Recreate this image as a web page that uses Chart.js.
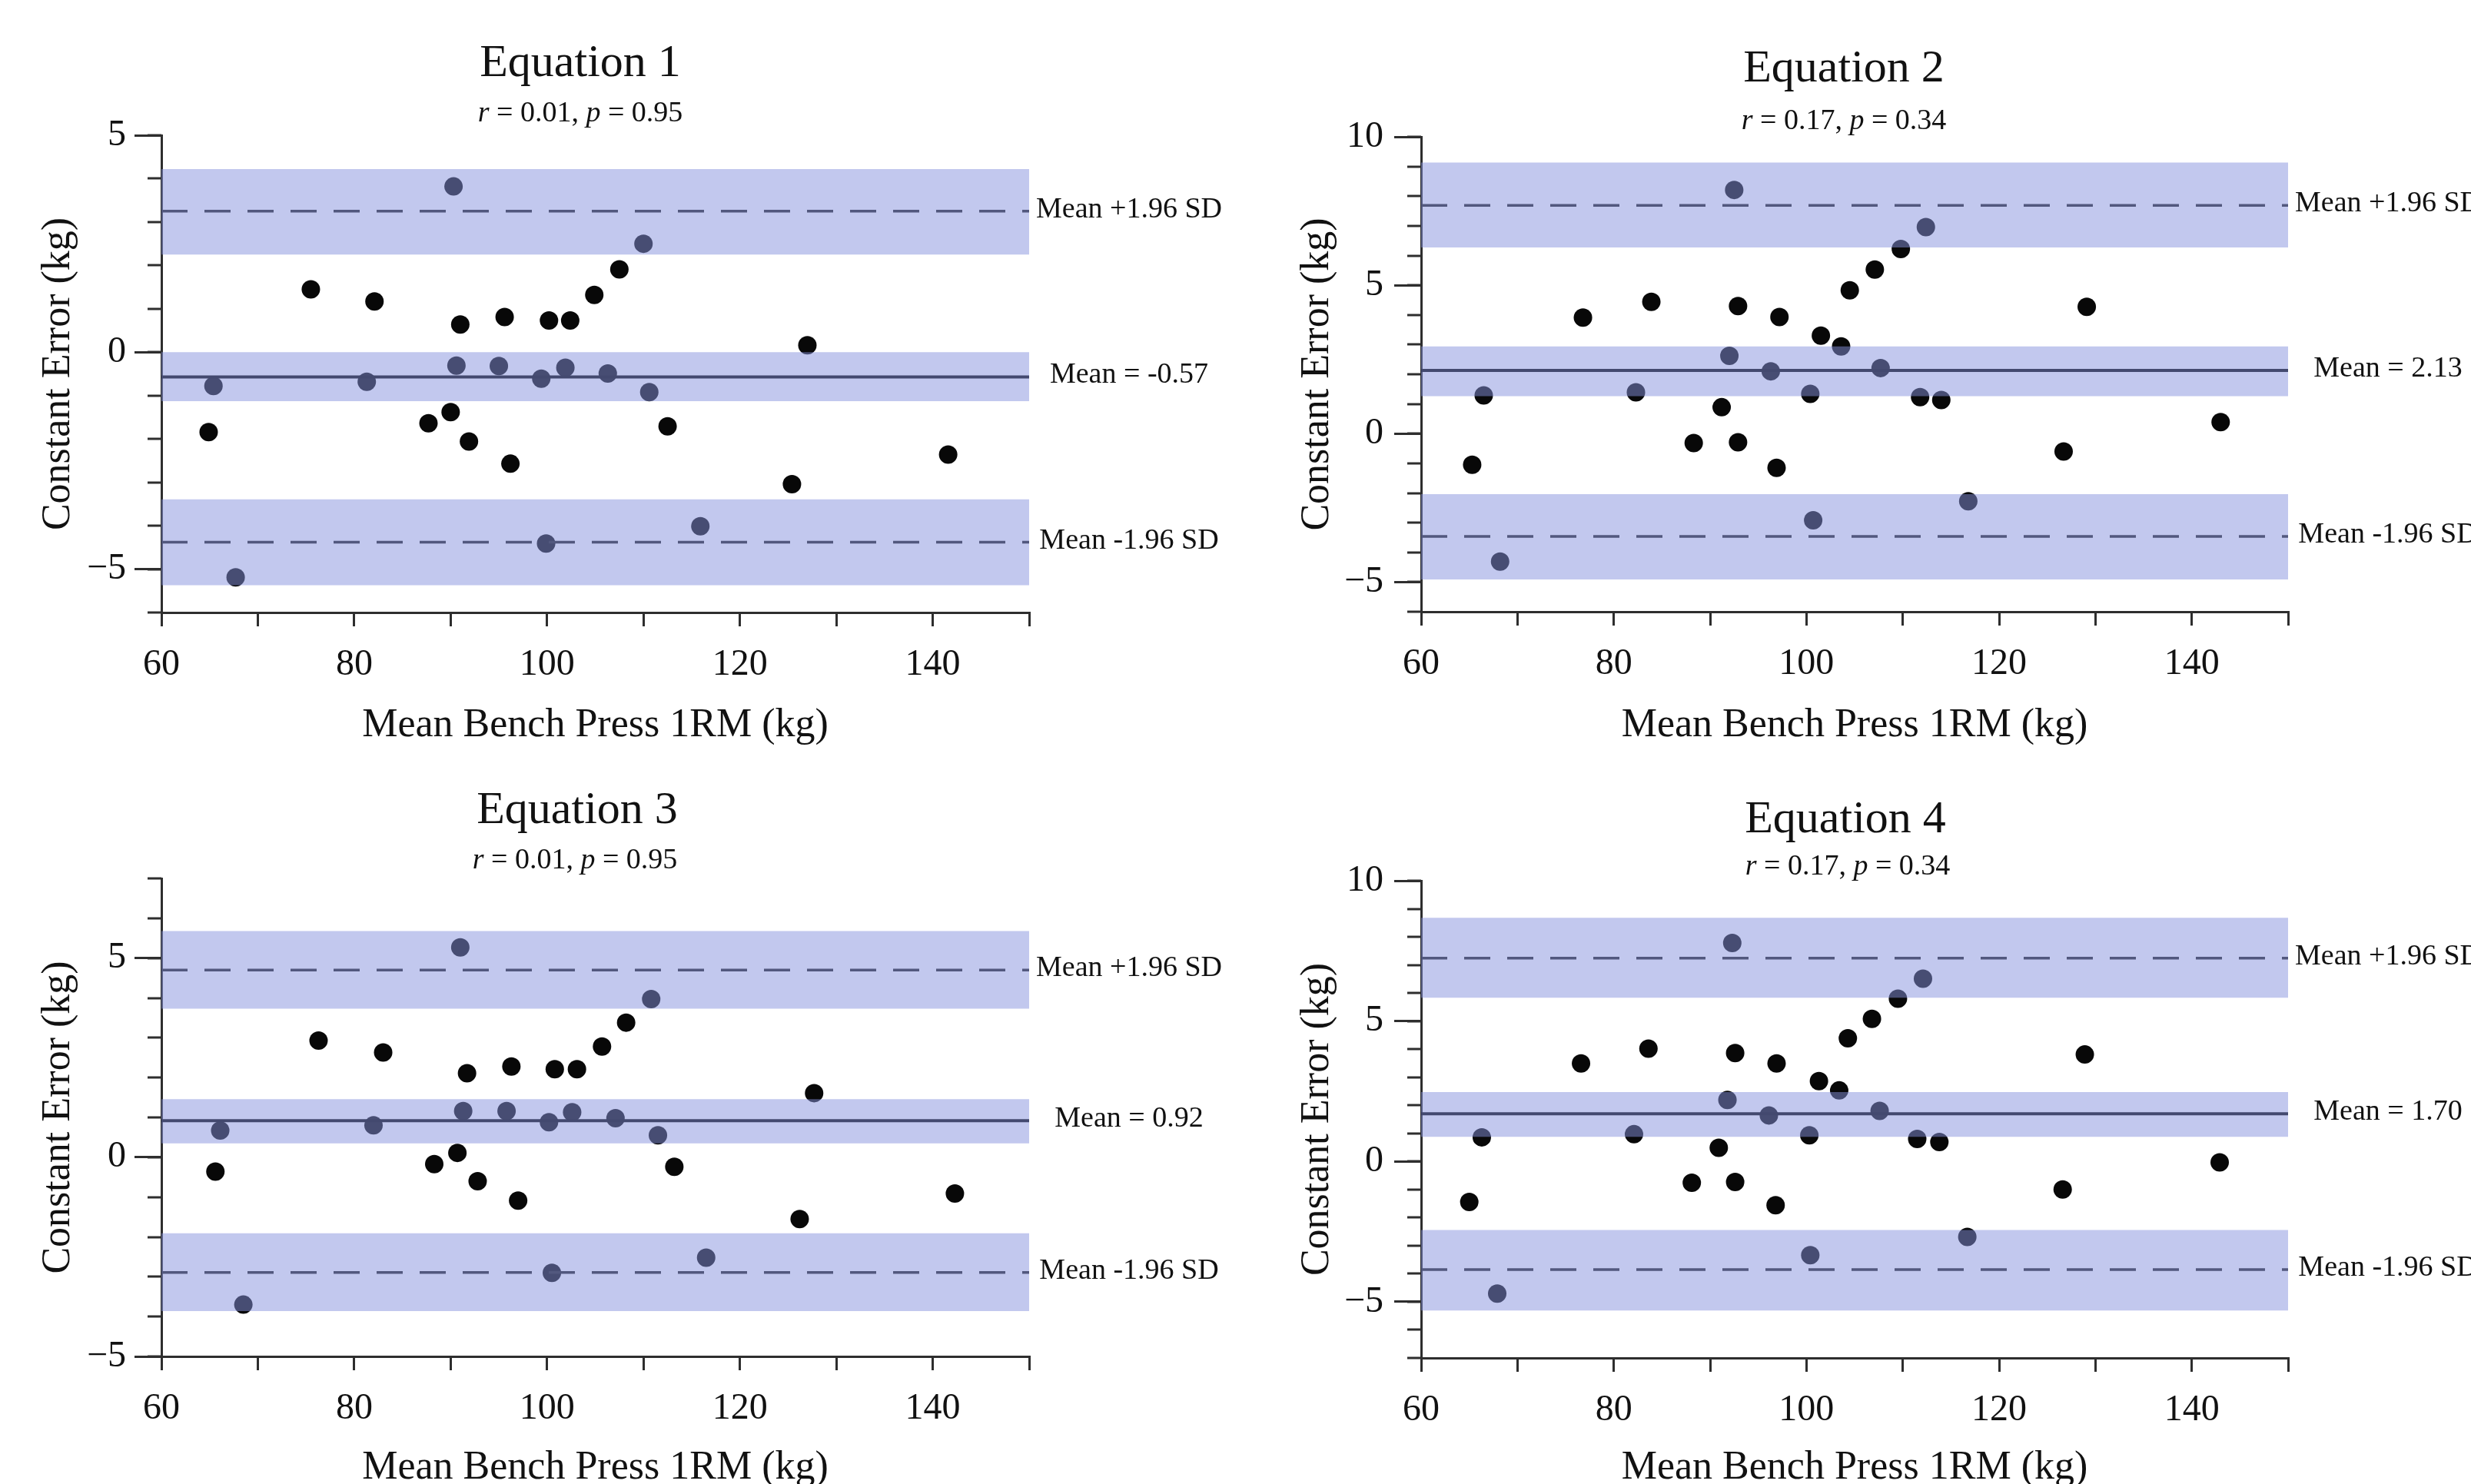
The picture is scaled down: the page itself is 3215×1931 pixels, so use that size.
<!DOCTYPE html>
<html>
<head>
<meta charset="utf-8">
<script src="https://cdn.jsdelivr.net/npm/chart.js@4.4.0/dist/chart.umd.min.js"></script>
<style>
html,body{margin:0;padding:0;background:#fff;overflow:hidden;width:3215px;height:1931px;position:relative;}
canvas{position:absolute;display:block;}
</style>
</head>
<body>
<canvas id="c1" width="1608" height="976" style="left:0;top:0"></canvas>
<canvas id="c2" width="1607" height="976" style="left:1608px;top:0"></canvas>
<canvas id="c3" width="1608" height="985" style="left:0;top:972px"></canvas>
<canvas id="c4" width="1607" height="985" style="left:1608px;top:972px"></canvas>
<script>
// ---------------- data ----------------
const xRange = [60, 150];
const xTickValues = [60, 70, 80, 90, 100, 110, 120, 130, 140, 150];
const xTickLabelValues = [60, 80, 100, 120, 140];
const xTitle = 'Mean Bench Press 1RM (kg)';
const yTitle = 'Constant Error (kg)';

// Equation 1
const eq1Title = 'Equation 1';
const eq1Stats = ['0.01', '0.95'];
const eq1X = [64.9, 65.4, 67.7, 75.5, 81.3, 82.1, 87.7, 90.0, 90.3, 90.6, 91.0, 91.9, 95.0, 95.6, 96.2,
              99.4, 99.9, 100.2, 101.9, 102.4, 104.9, 106.3, 107.5, 110.0, 110.6, 112.5, 115.9, 125.4, 127.0, 141.6];
const eq1Y = [-1.84, -0.78, -5.19, 1.45, -0.68, 1.17, -1.64, -1.38, 3.82, -0.31, 0.64, -2.06, -0.32, 0.81, -2.57,
              -0.61, -4.41, 0.73, -0.36, 0.73, 1.32, -0.49, 1.91, 2.50, -0.92, -1.71, -4.01, -3.04, 0.16, -2.36];
const eq1YRange = [-6, 5];
const eq1YTicks = [-5, 0, 5];
const eq1Lines = [3.25, -0.57, -4.38];
const eq1BandLow = [2.25, -1.13, -5.37];
const eq1BandHigh = [4.22, 0.00, -3.39];
const eq1LineLabels = ['Mean +1.96 SD', 'Mean = -0.57', 'Mean -1.96 SD'];

// Equation 2
const eq2Title = 'Equation 2';
const eq2Stats = ['0.17', '0.34'];
const eq2X = [65.3, 66.5, 68.2, 76.8, 82.3, 83.9, 88.3, 91.2, 92.0, 92.5, 92.9, 92.9, 96.3, 96.9, 97.2,
              100.4, 100.7, 101.5, 103.6, 104.5, 107.1, 107.7, 109.8, 111.8, 112.4, 114.0, 116.8, 126.7, 129.1, 143.0];
const eq2Y = [-1.05, 1.29, -4.31, 3.91, 1.39, 4.44, -0.32, 0.89, 2.62, 8.21, 4.30, -0.29, 2.10, -1.15, 3.93,
              1.34, -2.92, 3.30, 2.94, 4.83, 5.53, 2.21, 6.22, 1.23, 6.96, 1.13, -2.28, -0.60, 4.27, 0.39];
const eq2YRange = [-6, 10];
const eq2YTicks = [-5, 0, 5, 10];
const eq2Lines = [7.69, 2.13, -3.46];
const eq2BandLow = [6.27, 1.26, -4.91];
const eq2BandHigh = [9.13, 2.94, -2.04];
const eq2LineLabels = ['Mean +1.96 SD', 'Mean = 2.13', 'Mean -1.96 SD'];

// Equation 3
const eq3Title = 'Equation 3';
const eq3Stats = ['0.01', '0.95'];
const eq3X = [65.6, 66.1, 68.5, 76.3, 82.0, 83.0, 88.3, 90.7, 91.0, 91.3, 91.7, 92.8, 95.8, 96.3, 97.0,
              100.2, 100.5, 100.8, 102.6, 103.1, 105.7, 107.1, 108.2, 110.8, 111.5, 113.2, 116.5, 126.2, 127.7, 142.3];
const eq3Y = [-0.36, 0.67, -3.70, 2.93, 0.80, 2.63, -0.17, 0.11, 5.27, 1.16, 2.11, -0.60, 1.16, 2.28, -1.09,
              0.88, -2.90, 2.21, 1.13, 2.21, 2.78, 0.98, 3.38, 3.97, 0.55, -0.24, -2.52, -1.55, 1.61, -0.91];
const eq3YRange = [-5, 7];
const eq3YTicks = [-5, 0, 5];
const eq3Lines = [4.70, 0.92, -2.89];
const eq3BandLow = [3.73, 0.35, -3.86];
const eq3BandHigh = [5.68, 1.46, -1.91];
const eq3LineLabels = ['Mean +1.96 SD', 'Mean = 0.92', 'Mean -1.96 SD'];

// Equation 4
const eq4Title = 'Equation 4';
const eq4Stats = ['0.17', '0.34'];
const eq4X = [65.0, 66.3, 67.9, 76.6, 82.1, 83.6, 88.1, 90.9, 91.8, 92.3, 92.6, 92.6, 96.1, 96.8, 96.9,
              100.3, 100.4, 101.3, 103.4, 104.3, 106.8, 107.6, 109.5, 111.5, 112.1, 113.8, 116.7, 126.6, 128.9, 142.9];
const eq4Y = [-1.44, 0.86, -4.71, 3.49, 0.97, 4.02, -0.76, 0.49, 2.19, 7.78, 3.86, -0.73, 1.64, -1.56, 3.49,
              0.93, -3.34, 2.86, 2.53, 4.39, 5.08, 1.80, 5.80, 0.80, 6.51, 0.69, -2.69, -1.00, 3.81, -0.03];
const eq4YRange = [-7, 10];
const eq4YTicks = [-5, 0, 5, 10];
const eq4Lines = [7.24, 1.70, -3.85];
const eq4BandLow = [5.83, 0.88, -5.31];
const eq4BandHigh = [8.68, 2.47, -2.44];
const eq4LineLabels = ['Mean +1.96 SD', 'Mean = 1.70', 'Mean -1.96 SD'];

// ---------------- rendering ----------------
const FONT = "'Liberation Serif', 'Times New Roman', serif";
const TXT = '#111111';
const AX = '#2e2e2e';
Chart.defaults.font.family = FONT;

const annotPlugin = {
  id: 'annot',
  afterDraw(chart, args, o) {
    const ctx = chart.ctx, ca = chart.chartArea, ys = chart.scales.y;
    ctx.save();
    // minor y ticks
    ctx.strokeStyle = AX; ctx.lineWidth = 3;
    for (let v = Math.ceil(ys.min); v <= ys.max; v++) {
      const py = Math.round(ys.getPixelForValue(v));
      ctx.beginPath(); ctx.moveTo(ca.left - 18, py); ctx.lineTo(ca.left, py); ctx.stroke();
    }
    ctx.fillStyle = TXT; ctx.textBaseline = 'middle';
    // title
    ctx.textAlign = 'center';
    ctx.font = '60px ' + FONT;
    ctx.fillText(o.title, o.tx, o.ty);
    // subtitle with italic r and p
    const segs = [['r', true], [' = ' + o.stats[0] + ', ', false], ['p', true], [' = ' + o.stats[1], false]];
    const fnt = it => (it ? 'italic ' : '') + '38px ' + FONT;
    let total = 0;
    segs.forEach(s => { ctx.font = fnt(s[1]); total += ctx.measureText(s[0]).width; });
    let x = o.sx - total / 2;
    ctx.textAlign = 'left';
    segs.forEach(s => { ctx.font = fnt(s[1]); ctx.fillText(s[0], x, o.sy); x += ctx.measureText(s[0]).width; });
    // right-side labels
    ctx.textAlign = 'center';
    ctx.font = '38px ' + FONT;
    o.labels.forEach((t, i) => {
      ctx.fillText(t, ca.right + 130, ys.getPixelForValue(o.values[i]) - 2);
    });
    ctx.restore();
  }
};

function makePanel(p) {
  const pts = p.xs.map((x, i) => ({ x: x, y: p.ys[i] }));
  const seg = v => [{ x: xRange[0], y: v }, { x: xRange[1], y: v }];
  const datasets = [];
  datasets.push({ type: 'scatter', data: pts, backgroundColor: '#080808', borderWidth: 0,
                  pointRadius: 12, pointHoverRadius: 12, order: 3 });
  p.lines.forEach((v, i) => datasets.push({
    type: 'line', data: seg(v), borderColor: i === 1 ? '#000000' : '#1e1e1e', borderWidth: i === 1 ? 4 : 3.5,
    borderDash: i === 1 ? [] : [34, 22], pointRadius: 0, fill: false, order: 2 }));
  p.bandLow.forEach((lo, i) => datasets.push({
    type: 'line', data: seg(p.bandHigh[i]), borderWidth: 0, borderColor: 'rgba(0,0,0,0)',
    backgroundColor: 'rgba(133,145,221,0.5)', pointRadius: 0, fill: { value: lo }, order: 1 }));

  new Chart(document.getElementById(p.id), {
    type: 'scatter',
    data: { datasets: datasets },
    plugins: [annotPlugin],
    options: {
      responsive: false, animation: false, devicePixelRatio: 1,
      layout: { autoPadding: false, padding: { left: 0, top: p.top, right: p.right, bottom: 0 } },
      plugins: {
        legend: { display: false }, tooltip: { enabled: false },
        annot: { title: p.title, stats: p.stats, tx: p.tx, ty: p.ty, sx: p.tx2, sy: p.sy,
                 labels: p.lineLabels, values: p.lines }
      },
      scales: {
        x: {
          type: 'linear', min: xRange[0], max: xRange[1],
          afterBuildTicks: s => { s.ticks = xTickValues.map(v => ({ value: v })); },
          afterFit: s => { s.height = p.xH; },
          ticks: { autoSkip: false, maxRotation: 0, padding: 22, color: TXT,
                   font: { family: FONT, size: 48 },
                   callback: v => xTickLabelValues.includes(v) ? String(v) : '' },
          grid: { drawOnChartArea: false, drawTicks: true, tickLength: 18, color: AX, lineWidth: 3 },
          border: { display: true, color: AX, width: 3 },
          title: { display: true, text: xTitle, color: TXT, font: { family: FONT, size: 52 },
                   padding: { top: 0, bottom: p.xTitlePad } }
        },
        y: {
          type: 'linear', min: p.yRange[0], max: p.yRange[1],
          afterBuildTicks: s => { s.ticks = p.yTicks.map(v => ({ value: v })); },
          afterFit: s => { s.width = p.yW; },
          ticks: { padding: p.yTickPad, color: TXT, font: { family: FONT, size: 48 },
                   callback: v => v < 0 ? '\u2212' + Math.abs(v) : String(v) },
          grid: { drawOnChartArea: false, drawTicks: true, tickLength: 35, color: AX, lineWidth: 3 },
          border: { display: true, color: AX, width: 3 },
          title: { display: true, text: yTitle, color: TXT, font: { family: FONT, size: 52 },
                   padding: { top: p.yTitlePad, bottom: 0 } }
        }
      }
    }
  });
}

makePanel({ id: 'c1', xs: eq1X, ys: eq1Y, yRange: eq1YRange, yTicks: eq1YTicks, lines: eq1Lines,
  bandLow: eq1BandLow, bandHigh: eq1BandHigh, lineLabels: eq1LineLabels, title: eq1Title, stats: eq1Stats,
  top: 176, right: 269, yW: 210, xH: 179, xTitlePad: 0, yTitlePad: 45, yTickPad: 11,
  tx: 755, ty: 83, tx2: 755, sy: 148 });
makePanel({ id: 'c2', xs: eq2X, ys: eq2Y, yRange: eq2YRange, yTicks: eq2YTicks, lines: eq2Lines,
  bandLow: eq2BandLow, bandHigh: eq2BandHigh, lineLabels: eq2LineLabels, title: eq2Title, stats: eq2Stats,
  top: 178, right: 238, yW: 241, xH: 180, xTitlePad: 0, yTitlePad: 75, yTickPad: 14,
  tx: 791, ty: 90, tx2: 791, sy: 158 });
makePanel({ id: 'c3', xs: eq3X, ys: eq3Y, yRange: eq3YRange, yTicks: eq3YTicks, lines: eq3Lines,
  bandLow: eq3BandLow, bandHigh: eq3BandHigh, lineLabels: eq3LineLabels, title: eq3Title, stats: eq3Stats,
  top: 171, right: 269, yW: 210, xH: 192, xTitlePad: 15, yTitlePad: 45, yTickPad: 11,
  tx: 751, ty: 83, tx2: 748, sy: 148 });
makePanel({ id: 'c4', xs: eq4X, ys: eq4Y, yRange: eq4YRange, yTicks: eq4YTicks, lines: eq4Lines,
  bandLow: eq4BandLow, bandHigh: eq4BandHigh, lineLabels: eq4LineLabels, title: eq4Title, stats: eq4Stats,
  top: 174, right: 238, yW: 241, xH: 190, xTitlePad: 15, yTitlePad: 75, yTickPad: 14,
  tx: 793, ty: 95, tx2: 796, sy: 156 });
</script>
</body>
</html>
